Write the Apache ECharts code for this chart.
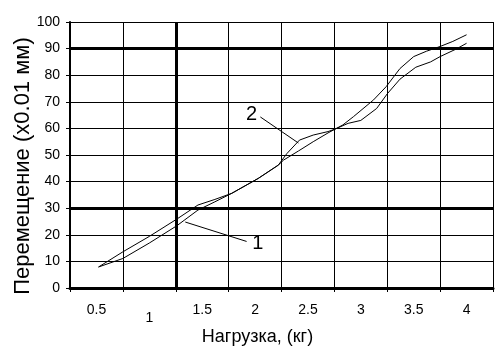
<!DOCTYPE html>
<html>
<head>
<meta charset="utf-8">
<script src="https://cdn.jsdelivr.net/npm/echarts@6/dist/echarts.min.js"></script>
<style>
  html, body { margin: 0; padding: 0; background: #fff; }
  #chart { width: 495px; height: 351px; }
</style>
</head>
<body>
<div id="chart"></div>
<script>
// подписи по оси X
const xLabels = ['0.5', '1', '1.5', '2', '2.5', '3', '3.5', '4'];

// кривая 1
const line1X = [0.52, 0.75, 1.0, 1.26, 1.46, 1.62, 1.78, 2.03, 2.22, 2.27, 2.41, 2.55, 2.69, 2.76, 2.88, 3.0, 3.15, 3.25, 3.37, 3.52, 3.66, 3.75, 3.9, 4.0];
const line1Y = [7.9, 11.1, 16.9, 23.4, 29.3, 32.4, 35.6, 41.2, 46.2, 48.1, 51.5, 55.0, 58.3, 59.8, 61.9, 63.0, 67.5, 73.0, 78.5, 83.0, 85.0, 87.0, 89.8, 92.0];

// кривая 2
const line2X = [0.52, 0.75, 1.0, 1.26, 1.46, 1.62, 1.78, 2.03, 2.22, 2.3, 2.42, 2.55, 2.69, 2.76, 2.83, 2.93, 3.12, 3.24, 3.37, 3.5, 3.62, 3.75, 3.87, 4.0];
const line2Y = [7.9, 13.6, 19.4, 25.9, 31.2, 33.3, 35.6, 41.2, 46.2, 50.5, 55.6, 57.5, 58.8, 59.8, 61.3, 64.4, 70.7, 75.7, 82.5, 87.0, 89.0, 90.8, 92.7, 95.2];

const FONT = 'Liberation Sans';

function pairs(xs, ys) {
    return xs.map((x, i) => [x, ys[i]]);
}

const thick = { color: '#000', width: 3, type: 'solid' };

const option = {
    backgroundColor: '#fff',
    animation: false,
    grid: {
        left: 70,
        right: 2,
        top: 22,
        bottom: 63,
        containLabel: false,
        outerBoundsMode: 'none',
    },
    xAxis: [
        {
            type: 'value',
            min: 0.25,
            max: 4.25,
            interval: 0.5,
            name: 'Нагрузка, (кг)',
            nameLocation: 'middle',
            nameGap: 40,
            nameMoveOverlap: false,
            nameTextStyle: {
                fontFamily: FONT,
                fontSize: 18,
                color: '#000',
                padding: [0, 48, 0, 0],
            },
            axisLine: { lineStyle: { color: '#000', width: 3 } },
            axisTick: { show: true, length: 4, lineStyle: { color: '#000' } },
            axisLabel: { show: false },
            splitLine: { show: true, lineStyle: { color: '#000', width: 1 } },
        },
        {
            type: 'category',
            position: 'bottom',
            boundaryGap: true,
            data: xLabels,
            axisLine: { show: false },
            axisTick: { show: false },
            splitLine: { show: false },
            axisLabel: {
                interval: 0,
                margin: 15,
                fontFamily: FONT,
                fontSize: 14,
                color: '#000',
                formatter: v => v === '1' ? '{low|1}' : v,
                rich: {
                    low: { fontFamily: FONT, fontSize: 14, color: '#000', padding: [8, 0, 0, 0] }
                }
            },
        }
    ],
    yAxis: {
        type: 'value',
        min: 0,
        max: 100,
        interval: 10,
        name: 'Перемещение (x0.01 мм)',
        nameLocation: 'middle',
        nameGap: 36,
        nameMoveOverlap: false,
        nameTextStyle: {
            fontFamily: FONT,
            fontSize: 22,
            color: '#000',
            padding: [0, 22, 0, 0],
        },
        axisLine: { show: true, lineStyle: { color: '#000', width: 2 } },
        axisTick: { show: true, length: 4, lineStyle: { color: '#000' } },
        axisLabel: {
            margin: 10,
            fontFamily: FONT,
            fontSize: 14,
            color: '#000',
        },
        splitLine: { show: true, lineStyle: { color: '#000', width: 1 } },
    },
    series: [
        {
            name: '1',
            type: 'line',
            xAxisIndex: 0,
            data: pairs(line1X, line1Y),
            symbol: 'none',
            lineStyle: { color: '#000', width: 1 },
            markLine: {
                silent: true,
                symbol: 'none',
                animation: false,
                data: [
                    { xAxis: 1.25, lineStyle: thick, label: { show: false } },
                    { yAxis: 30, lineStyle: thick, label: { show: false } },
                    { yAxis: 90, lineStyle: thick, label: { show: false } },
                    [
                        { coord: [1.34, 24.8] },
                        { coord: [1.92, 17.5] }
                    ]
                ],
                lineStyle: { color: '#000', width: 1, type: 'solid' },
                label: {
                    show: true,
                    position: 'end',
                    distance: 6,
                    formatter: '1',
                    fontFamily: FONT,
                    fontSize: 20,
                    color: '#000',
                },
            },
        },
        {
            name: '2',
            type: 'line',
            xAxisIndex: 0,
            data: pairs(line2X, line2Y),
            symbol: 'none',
            lineStyle: { color: '#000', width: 1 },
            markLine: {
                silent: true,
                symbol: 'none',
                animation: false,
                data: [
                    [
                        { coord: [2.05, 64.3] },
                        { coord: [2.41, 54.5] }
                    ]
                ],
                lineStyle: { color: '#000', width: 1, type: 'solid' },
                label: {
                    show: true,
                    position: 'start',
                    distance: 4,
                    formatter: '2',
                    fontFamily: FONT,
                    fontSize: 20,
                    color: '#000',
                },
            },
        }
    ]
};

const chart = echarts.init(document.getElementById('chart'));
chart.setOption(option);
</script>
</body>
</html>
